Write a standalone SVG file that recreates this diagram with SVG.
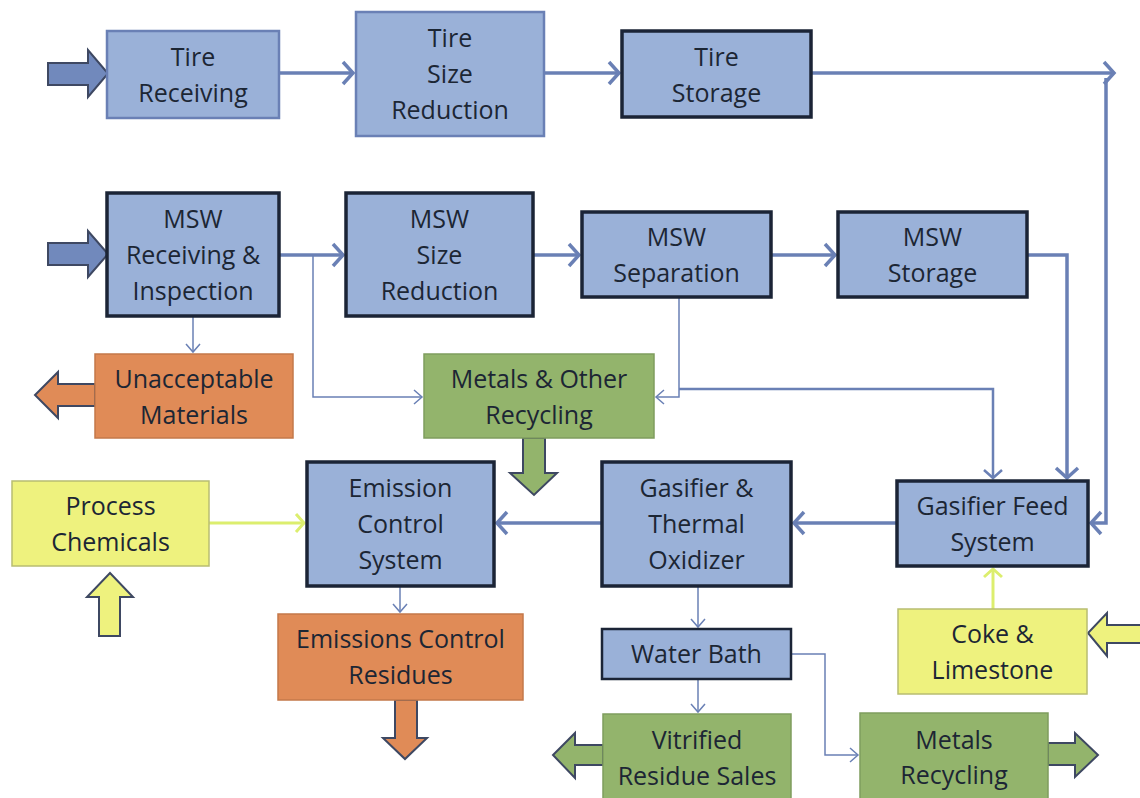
<svg xmlns="http://www.w3.org/2000/svg" width="1140" height="798" viewBox="0 0 1140 798">
<style>
.blue{fill:#9ab1d8;stroke:#1b2436;stroke-width:3.5}
.bluethin{fill:#9ab1d8;stroke:#6a80b5;stroke-width:2.5}
.wb{fill:#9ab1d8;stroke:#1b2436;stroke-width:2.5}
.orange{fill:#e08b57;stroke:#c4784a;stroke-width:1.5}
.green{fill:#93b46c;stroke:#7f9d5e;stroke-width:1.5}
.yellow{fill:#eef27e;stroke:#b8bd72;stroke-width:1.5}
text{font-family:"Open Sans","Liberation Sans",sans-serif;font-size:25px;text-anchor:middle;fill:#1c2634}
.c{fill:none;stroke:#6a80b5}
.thick{stroke-width:3.5}
.med{stroke-width:2.5}
.thin{stroke-width:1.5}
.yl{fill:none;stroke:#dcee6e;stroke-width:3}
.ba{stroke:#3e4862;stroke-width:2}
</style>
<defs>
<marker id="ah" markerUnits="userSpaceOnUse" viewBox="0 0 16 26" markerWidth="16" markerHeight="26" refX="13" refY="13" orient="auto">
<path d="M3,2 L13,13 L3,24" fill="none" stroke="#6a80b5" stroke-width="3.5"/>
</marker>
<marker id="ahm" markerUnits="userSpaceOnUse" viewBox="0 0 14 22" markerWidth="14" markerHeight="22" refX="11" refY="11" orient="auto">
<path d="M3,2 L11,11 L3,20" fill="none" stroke="#6a80b5" stroke-width="2.5"/>
</marker>
<marker id="aht" markerUnits="userSpaceOnUse" viewBox="0 0 12 18" markerWidth="12" markerHeight="18" refX="10" refY="9" orient="auto">
<path d="M2,2 L10,9 L2,16" fill="none" stroke="#6a80b5" stroke-width="1.5"/>
</marker>
<marker id="ahy" markerUnits="userSpaceOnUse" viewBox="0 0 14 22" markerWidth="14" markerHeight="22" refX="11" refY="11" orient="auto">
<path d="M3,2 L11,11 L3,20" fill="none" stroke="#dcee6e" stroke-width="3"/>
</marker>
</defs>
<rect width="1140" height="798" fill="#ffffff"/>

<g id="connectors">
<path class="c thick" d="M279,73 H353" marker-end="url(#ah)"/>
<path class="c thick" d="M544,73 H619" marker-end="url(#ah)"/>
<path class="c thick" d="M812,73 H1114" marker-end="url(#ah)"/>
<path class="c thick" d="M1106,78 V523 H1091" marker-end="url(#ah)"/>
<path class="c thick" d="M279,255 H343" marker-end="url(#ah)"/>
<path class="c thick" d="M534,255 H579" marker-end="url(#ah)"/>
<path class="c thick" d="M772,255 H835" marker-end="url(#ah)"/>
<path class="c thick" d="M1028,255 H1067 V478" marker-end="url(#ah)"/>
<path class="c thin" d="M313,255 V397 H422" marker-end="url(#aht)"/>
<path class="c thin" d="M193,317 V352" marker-end="url(#aht)"/>
<path class="c thin" d="M679,298 V397 H656" marker-end="url(#aht)"/>
<path class="c med" d="M679,389 H993 V478" marker-end="url(#ahm)"/>
<path class="c thick" d="M897,523 H794" marker-end="url(#ah)"/>
<path class="c thick" d="M602,523 H497" marker-end="url(#ah)"/>
<path class="yl" d="M209,523 H304" marker-end="url(#ahy)"/>
<path class="yl" d="M993,609 V569" marker-end="url(#ahy)"/>
<path class="c thin" d="M400,586 V612" marker-end="url(#aht)"/>
<path class="c thin" d="M698,586 V627" marker-end="url(#aht)"/>
<path class="c thin" d="M698,680 V712" marker-end="url(#aht)"/>
<path class="c thin" d="M791,654 H825 V755 H858" marker-end="url(#aht)"/>
</g>

<g id="block-arrows">
<polygon class="ba" fill="#7189bc" points="48,63 88,63 88,50 108,73.5 88,97 88,85 48,85"/>
<polygon class="ba" fill="#7189bc" points="48,243 88,243 88,231 108,254 88,277 88,265 48,265"/>
<polygon class="ba" fill="#e08b57" points="95,384 58,384 58,372 35,395 58,418 58,406 95,406"/>
<polygon class="ba" fill="#93b46c" points="523,438 545,438 545,473 557,473 534,495 510,473 523,473"/>
<polygon class="ba" fill="#eef27e" points="110,573 133,597 120,597 120,636 99,636 99,597 87,597"/>
<polygon class="ba" fill="#e08b57" points="395,700 417,700 417,738 427,738 405,759 383,738 395,738"/>
<polygon class="ba" fill="#93b46c" points="603,745 575,745 575,733 553,755 575,778 575,765 603,765"/>
<polygon class="ba" fill="#93b46c" points="1048,743 1075,743 1075,733 1098,755 1075,777 1075,765 1048,765"/>
<polygon class="ba" fill="#eef27e" points="1142,625 1107,625 1107,613 1088,633 1107,656 1107,643 1142,643"/>
</g>

<g id="tire-receiving"><rect class="bluethin" x="107" y="31" width="172" height="87"/><text x="193" y="66">Tire</text><text x="193" y="102">Receiving</text></g>
<g id="tire-size-reduction"><rect class="bluethin" x="356" y="12" width="188" height="124"/><text x="450" y="47">Tire</text><text x="450" y="83">Size</text><text x="450" y="119">Reduction</text></g>
<g id="tire-storage"><rect class="blue" x="622" y="31" width="189" height="86"/><text x="716.5" y="66">Tire</text><text x="716.5" y="102">Storage</text></g>
<g id="msw-receiving"><rect class="blue" x="107" y="193" width="172" height="123"/><text x="193" y="228">MSW</text><text x="193" y="264">Receiving &amp;</text><text x="193" y="300">Inspection</text></g>
<g id="msw-size-reduction"><rect class="blue" x="346" y="193" width="187" height="123"/><text x="439.5" y="228">MSW</text><text x="439.5" y="264">Size</text><text x="439.5" y="300">Reduction</text></g>
<g id="msw-separation"><rect class="blue" x="582" y="212" width="189" height="85"/><text x="676.5" y="246">MSW</text><text x="676.5" y="282">Separation</text></g>
<g id="msw-storage"><rect class="blue" x="838" y="212" width="189" height="85"/><text x="932.5" y="246">MSW</text><text x="932.5" y="282">Storage</text></g>
<g id="unacceptable-materials"><rect class="orange" x="95" y="354" width="198" height="84"/><text x="194" y="388">Unacceptable</text><text x="194" y="424">Materials</text></g>
<g id="metals-other-recycling"><rect class="green" x="424" y="354" width="230" height="84"/><text x="539" y="388">Metals &amp; Other</text><text x="539" y="424">Recycling</text></g>
<g id="process-chemicals"><rect class="yellow" x="12" y="481" width="197" height="85"/><text x="110.5" y="515">Process</text><text x="110.5" y="551">Chemicals</text></g>
<g id="emission-control-system"><rect class="blue" x="307" y="462" width="187" height="124"/><text x="400.5" y="497">Emission</text><text x="400.5" y="533">Control</text><text x="400.5" y="569">System</text></g>
<g id="gasifier-thermal-oxidizer"><rect class="blue" x="602" y="462" width="189" height="124"/><text x="696.5" y="497">Gasifier &amp;</text><text x="696.5" y="533">Thermal</text><text x="696.5" y="569">Oxidizer</text></g>
<g id="gasifier-feed-system"><rect class="blue" x="897" y="481" width="191" height="85"/><text x="992.5" y="515">Gasifier Feed</text><text x="992.5" y="551">System</text></g>
<g id="coke-limestone"><rect class="yellow" x="898" y="609" width="189" height="85"/><text x="992.5" y="643">Coke &amp;</text><text x="992.5" y="679">Limestone</text></g>
<g id="emissions-control-residues"><rect class="orange" x="278" y="614" width="245" height="86"/><text x="400.5" y="648">Emissions Control</text><text x="400.5" y="684">Residues</text></g>
<g id="water-bath"><rect class="wb" x="602" y="629" width="189" height="50"/><text x="696.5" y="663">Water Bath</text></g>
<g id="vitrified-residue-sales"><rect class="green" x="603" y="714" width="188" height="92"/><text x="697" y="749">Vitrified</text><text x="697" y="785">Residue Sales</text></g>
<g id="metals-recycling"><rect class="green" x="860" y="713" width="188" height="92"/><text x="954" y="749">Metals</text><text x="954" y="784">Recycling</text></g>
</svg>
